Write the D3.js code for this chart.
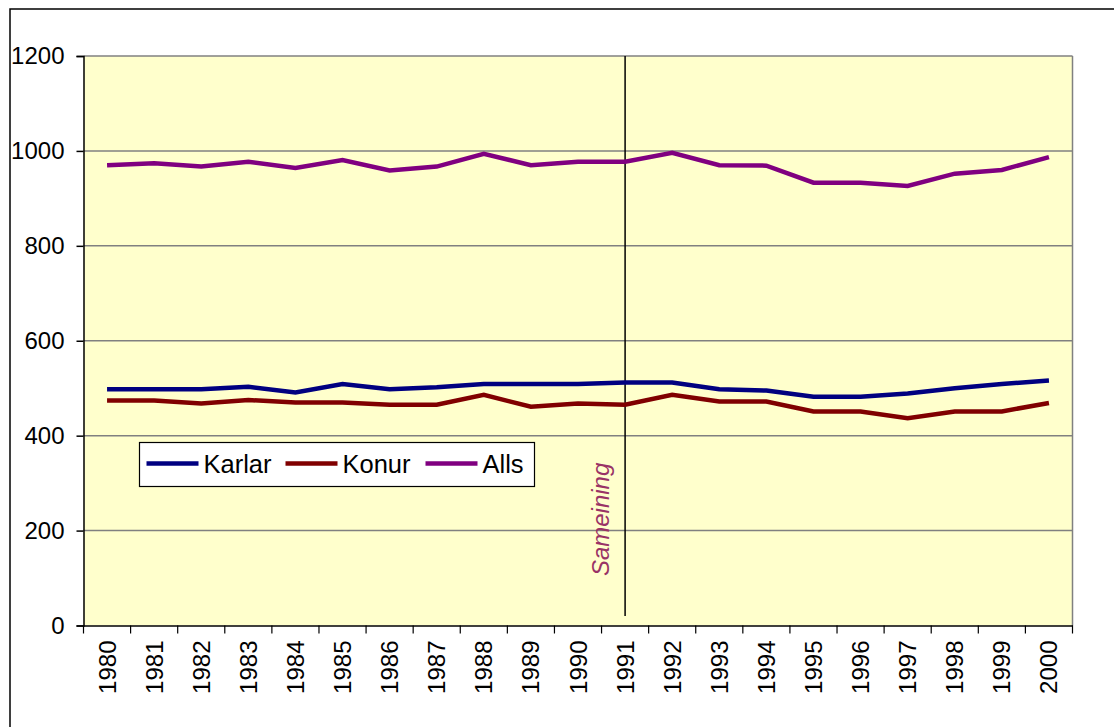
<!DOCTYPE html>
<html lang="is">
<head>
<meta charset="UTF-8">
<title>Karlar, konur, alls 1980-2000</title>
<script src="https://d3js.org/d3.v7.min.js"></script>
<style>
  body { margin: 0; background: #fff; }
  svg { display: block; font-family: "Liberation Sans", Arial, sans-serif; }
</style>
</head>
<body>
<svg id="chart" width="1114" height="727"></svg>
<script>
    // gögn lesin af myndinni
    const years = ["1980","1981","1982","1983","1984","1985","1986","1987","1988","1989","1990",
                   "1991","1992","1993","1994","1995","1996","1997","1998","1999","2000"];
    const karlar = [498, 498, 498, 503, 491, 509, 498, 502, 509, 509, 509,
                    512, 512, 498, 495, 482, 482, 489, 500, 509, 516];
    const konur  = [474, 474, 468, 475, 470, 470, 465, 465, 486, 461, 468,
                    465, 486, 472, 472, 451, 451, 437, 451, 451, 469];
    const alls   = [970, 974, 967, 977, 964, 981, 959, 967, 994, 970, 977,
                    977, 996, 970, 969, 933, 933, 926, 952, 960, 987];
    const yTicks = [0, 200, 400, 600, 800, 1000, 1200];
    const markerYear = "1991";
    const markerLabel = "Sameining";

    const series = [
        { name: "Karlar", values: karlar, color: "#000080" },
        { name: "Konur",  values: konur,  color: "#800000" },
        { name: "Alls",   values: alls,   color: "#800080" }
    ];

    const svg = d3.select("#chart");
    const plot = { left: 83.5, top: 56, width: 989, height: 569.5 };

    // ytri rammi
    svg.append("rect")
        .attr("x", 10).attr("y", 9)
        .attr("width", 1200).attr("height", 800)
        .attr("fill", "none").attr("stroke", "#000").attr("stroke-width", 1.5);

    const x = d3.scaleBand().domain(years).range([0, plot.width]).padding(0);
    const y = d3.scaleLinear().domain([0, 1200]).range([plot.height, 0]);
    const cx = d => x(d) + x.bandwidth() / 2;

    const g = svg.append("g").attr("transform", `translate(${plot.left},${plot.top})`);

    g.append("rect")
        .attr("width", plot.width).attr("height", plot.height)
        .attr("fill", "#FFFFCC");

    // hnitalínur
    g.append("g")
        .selectAll("line")
        .data(yTicks.filter(t => t > 0))
        .join("line")
        .attr("x1", 0).attr("x2", plot.width)
        .attr("y1", d => y(d)).attr("y2", d => y(d))
        .attr("stroke", "#808080").attr("stroke-width", 1.5);

    g.append("line")
        .attr("x1", plot.width).attr("x2", plot.width)
        .attr("y1", 0).attr("y2", plot.height)
        .attr("stroke", "#808080").attr("stroke-width", 1.5);

    // y-ás
    const yAxis = g.append("g")
        .call(d3.axisLeft(y).tickValues(yTicks).tickFormat(d3.format("d")).tickSize(7).tickPadding(12));
    yAxis.select(".domain").attr("stroke", "#000").attr("stroke-width", 1.5);
    yAxis.selectAll(".tick line").attr("stroke", "#000").attr("stroke-width", 1.5);
    yAxis.selectAll("text")
        .attr("font-size", 24)
        .attr("font-family", "Liberation Sans, Arial, sans-serif")
        .attr("fill", "#000");

    // x-ás
    const xAxis = g.append("g")
        .attr("transform", `translate(0,${plot.height})`)
        .call(d3.axisBottom(x).tickSize(0).tickPadding(0));
    xAxis.select(".domain").attr("stroke", "#000").attr("stroke-width", 1.5);
    xAxis.selectAll(".tick text")
        .attr("font-size", 24)
        .attr("font-family", "Liberation Sans, Arial, sans-serif")
        .attr("fill", "#000")
        .attr("text-anchor", "end")
        .attr("dy", 0)
        .attr("transform", "translate(8.5,15) rotate(-90)");

    // merki milli flokka
    g.append("g")
        .selectAll("line")
        .data(d3.range(years.length + 1))
        .join("line")
        .attr("x1", i => i * x.bandwidth()).attr("x2", i => i * x.bandwidth())
        .attr("y1", plot.height).attr("y2", plot.height + 8)
        .attr("stroke", "#000").attr("stroke-width", 1.2);

    // lóðrétt lína við sameiningu
    g.append("line")
        .attr("x1", cx(markerYear)).attr("x2", cx(markerYear))
        .attr("y1", 0).attr("y2", y(20))
        .attr("stroke", "#000").attr("stroke-width", 1.5);

    g.append("text")
        .attr("transform", `translate(${cx(markerYear) - 16},${y(343)}) rotate(-90)`)
        .attr("text-anchor", "end")
        .attr("font-size", 24)
        .attr("font-style", "italic")
        .attr("fill", "#993366")
        .text(markerLabel);

    // línur
    const line = d3.line()
        .x((d, i) => cx(years[i]))
        .y(d => y(d));

    g.selectAll(".series")
        .data(series)
        .join("path")
        .attr("class", "series")
        .attr("d", d => line(d.values))
        .attr("fill", "none")
        .attr("stroke", d => d.color)
        .attr("stroke-width", 4.5)
        .attr("stroke-linejoin", "miter");

    // skýringar
    const legend = svg.append("g").attr("transform", "translate(139.5,442.5)");
    legend.append("rect")
        .attr("width", 395).attr("height", 44)
        .attr("fill", "#fff").attr("stroke", "#000").attr("stroke-width", 1.2);

    const legendX = [7, 146, 286];
    const item = legend.selectAll(".item")
        .data(series)
        .join("g")
        .attr("class", "item")
        .attr("transform", (d, i) => `translate(${legendX[i]},21)`);
    item.append("line")
        .attr("x1", 0).attr("x2", 52)
        .attr("stroke", d => d.color).attr("stroke-width", 4.5);
    item.append("text")
        .attr("x", 57).attr("y", 9.5)
        .attr("font-size", 25.5)
        .attr("fill", "#000")
        .text(d => d.name);
</script>
</body>
</html>
